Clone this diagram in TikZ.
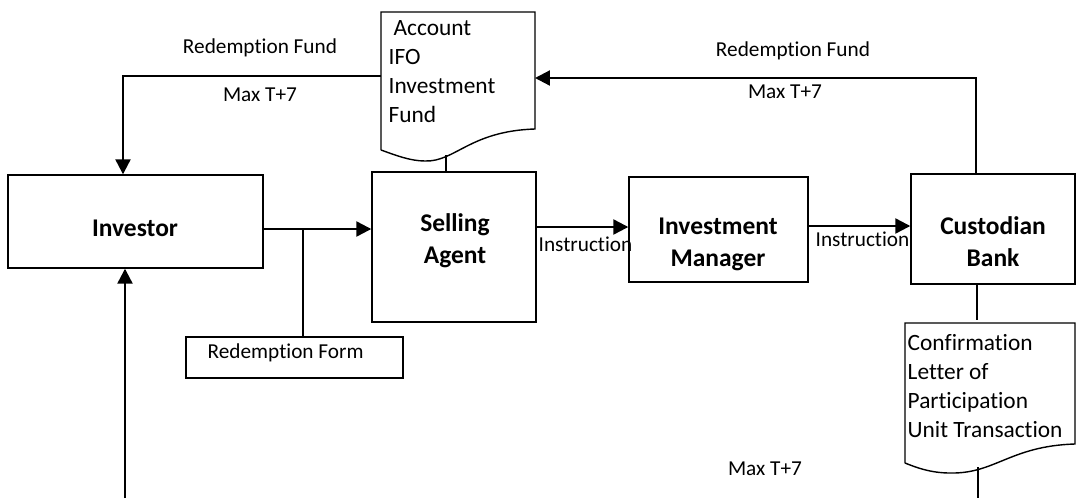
\documentclass[tikz,border=0pt]{standalone}
\usepackage{fontspec}
\setmainfont{Carlito}[Ligatures=NoCommon]
\usetikzlibrary{arrows.meta}
\begin{document}
\begin{tikzpicture}[x=0.02cm, y=-0.02cm, line width=0.8pt, >={Triangle[length=8.5pt,width=8.5pt]},
  main node/.style={rectangle,draw,inner sep=0pt},
  title text/.style={inner sep=0pt,align=center,font=\fontsize{14.5}{18.2}\selectfont\bfseries},
  label text/.style={inner sep=0pt,font=\fontsize{12.1}{14}\selectfont},
  doc text/.style={inner sep=0pt,align=left,anchor=west,font=\fontsize{13.3}{16.5}\selectfont},
  flow/.style={line width=1.3pt}]
\useasboundingbox (0,0) rectangle (1076,498);
\begin{scope}
\node[main node, minimum width=255*0.02cm, minimum height=93*0.02cm] (inv) at (135.5,221.5) {};
\node[title text] (invt) at (135,228) {Investor};
\node[main node, minimum width=164*0.02cm, minimum height=150*0.02cm] (sa) at (454,247) {};
\node[title text] (sat) at (455,241) {Selling\\Agent};
\node[main node, minimum width=179*0.02cm, minimum height=105*0.02cm] (im) at (718.5,229.5) {};
\node[title text] (imt) at (718,244) {Investment\\Manager};
\node[main node, minimum width=164*0.02cm, minimum height=110*0.02cm] (cb) at (993,229) {};
\node[title text] (cbt) at (993,242) {Custodian\\Bank};
\node[main node, minimum width=217*0.02cm, minimum height=41*0.02cm] (rf) at (294.5,357.5) {};
\node[label text, anchor=west] (rft) at (207,353) {Redemption Form};
\end{scope}
% documents
\draw (381,150) -- (381,12) -- (535,12) -- (535,129)
  .. controls (470,131) and (455,162) .. (425,161) .. controls (410,161) and (395,155) .. (381,150);
\node[doc text] (acc) at (388,72) {\hspace*{0.1cm}Account\\IFO\\Investment\\Fund};
\draw (905,463) -- (905,323) -- (1075,323) -- (1075,444)
  .. controls (1010,446) and (995,474) .. (950,473) .. controls (930,473) and (915,467) .. (905,463);
\node[doc text] (conf) at (907,386) {Confirmation\\Letter of\\Participation\\Unit Transaction};
\coordinate (accL) at (381,76);
\coordinate (accR) at (535,78);
\coordinate (accB) at (446,155);
\coordinate (confT) at (977,320);
\coordinate (confB) at (978,467);
\coordinate (j1) at (303,229);
\coordinate (tl) at (123,76);
\coordinate (tr) at (976,78);
\coordinate (bl) at (125,498);
\coordinate (br) at (978,498);
% connectors
\begin{scope}
\draw[flow,->] (inv.east |- j1) -- (sa.west |- j1);
\draw (j1) -- (rf.north -| j1);
\draw[flow,->] (sa.east |- 0,227) -- (im.west |- 0,227);
\draw[flow,->] (im.east |- 0,226) -- (cb.west |- 0,226);
\draw[flow,->] (accL) -- (tl) -- (inv.north -| tl);
\draw[flow,->] (cb.north -| tr) -- (tr) -- (accR);
\draw (accB) -- (sa.north -| accB);
\draw (cb.south -| confT) -- (confT);
\draw (confB) -- (br);
\draw[flow,->] (bl) -- (inv.south -| bl);
\end{scope}
% labels
\node[label text] (rf1) at (260,48) {Redemption Fund};
\node[label text] (mx1) at (260,95) {Max T+7};
\node[label text] (rf2) at (793,51) {Redemption Fund};
\node[label text] (mx2) at (785,92) {Max T+7};
\node[label text] (mx3) at (765,469) {Max T+7};
\node[label text, anchor=west] (in1) at (538,244) {Instruction};
\node[label text, anchor=west] (in2) at (815,239) {Instruction};
\end{tikzpicture}
\end{document}
